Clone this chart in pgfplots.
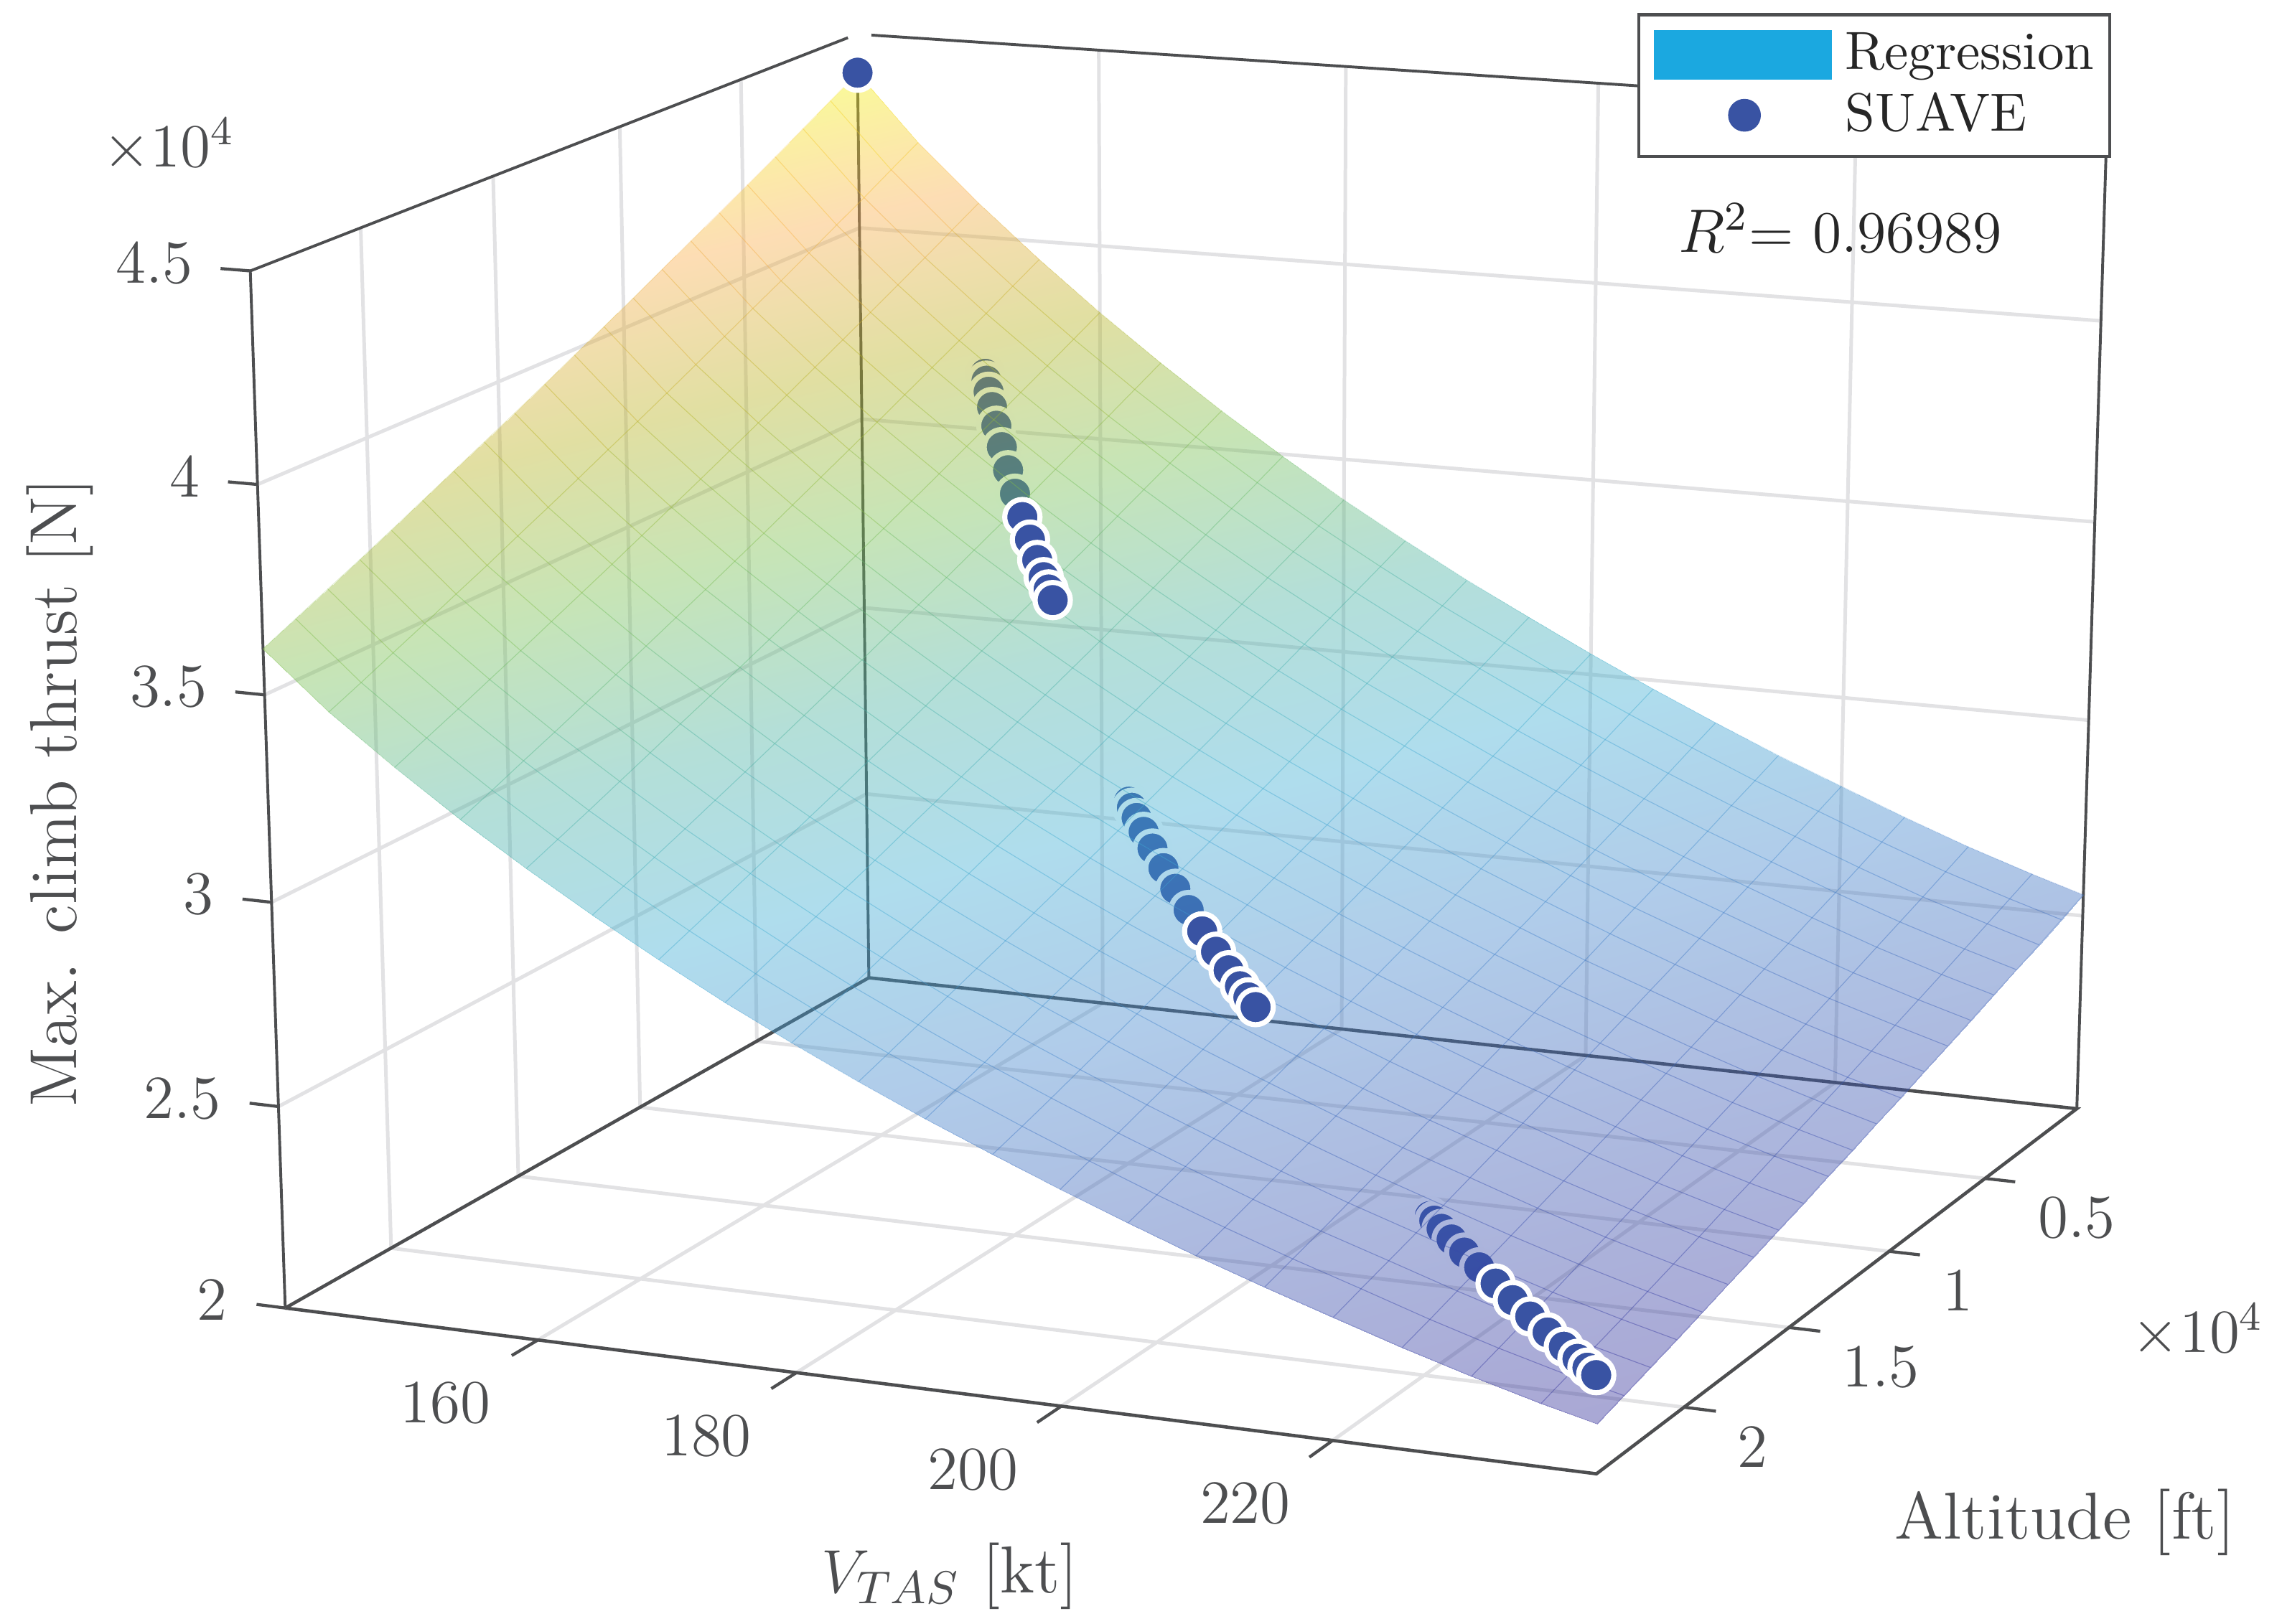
\documentclass[border=0pt]{standalone}
\usepackage{pgfplots}
\pgfplotsset{compat=1.18}
\definecolor{axcol}{RGB}{77,78,80}
\definecolor{gridcol}{RGB}{226,226,228}
\definecolor{suave}{RGB}{57,83,163}
\definecolor{regblue}{RGB}{27,168,224}
% view transform of the original figure: pgfplots only has parallel projection
\makeatletter
\def\perspq#1#2#3{%
  \pgfmathsetmacro\pu{(#1-140)/99}%
  \pgfmathsetmacro\pv{(2.4-#2)/2.4}%
  \pgfmathsetmacro\pw{(#3-2)/2.5}%
  \pgfmathsetmacro\pd{1-0.05684*\pu+0.10814*\pv-0.036*\pw}%
  \pgfmathsetmacro\px{(196+838.64*\pu+465.56*\pv-30.19*\pw)/\pd}%
  \pgfmathsetmacro\py{(899+56.42*\pu-154.33*\pv-719.5*\pw)/\pd}%
  \pgfmathsetlength\pgf@x{\px*0.28453pt}%
  \pgfmathsetlength\pgf@y{(1116-\py)*0.28453pt}%
}
\makeatother
\newcommand\tk{\fontsize{12}{14}\selectfont}
\newcommand\lb{\fontsize{13}{16}\selectfont}
% thrust surface: V [kt], altitude [1e4 ft], thrust [1e4 N]
\pgfplotstableread{
V h T
140 0 4.400
140 .12 4.357
140 .24 4.314
140 .36 4.271
140 .48 4.229
140 .6 4.188
140 .72 4.147
140 .84 4.106
140 .96 4.065
140 1.08 4.025
140 1.2 3.986
140 1.32 3.946
140 1.44 3.907
140 1.56 3.869
140 1.68 3.831
140 1.8 3.793
140 1.92 3.755
140 2.04 3.718
140 2.16 3.682
140 2.28 3.646
140 2.4 3.610
145 0 4.232
145 .12 4.191
145 .24 4.149
145 .36 4.109
145 .48 4.068
145 .6 4.028
145 .72 3.989
145 .84 3.950
145 .96 3.911
145 1.08 3.872
145 1.2 3.834
145 1.32 3.797
145 1.44 3.759
145 1.56 3.722
145 1.68 3.686
145 1.8 3.649
145 1.92 3.614
145 2.04 3.578
145 2.16 3.543
145 2.28 3.508
145 2.4 3.474
150 0 4.087
150 .12 4.047
150 .24 4.007
150 .36 3.968
150 .48 3.929
150 .6 3.891
150 .72 3.853
150 .84 3.815
150 .96 3.778
150 1.08 3.741
150 1.2 3.704
150 1.32 3.668
150 1.44 3.632
150 1.56 3.596
150 1.68 3.561
150 1.8 3.526
150 1.92 3.491
150 2.04 3.457
150 2.16 3.423
150 2.28 3.390
150 2.4 3.357
155 0 3.953
155 .12 3.915
155 .24 3.876
155 .36 3.838
155 .48 3.801
155 .6 3.764
155 .72 3.727
155 .84 3.691
155 .96 3.655
155 1.08 3.619
155 1.2 3.583
155 1.32 3.548
155 1.44 3.513
155 1.56 3.479
155 1.68 3.445
155 1.8 3.411
155 1.92 3.378
155 2.04 3.345
155 2.16 3.313
155 2.28 3.280
155 2.4 3.248
160 0 3.828
160 .12 3.791
160 .24 3.754
160 .36 3.718
160 .48 3.681
160 .6 3.646
160 .72 3.610
160 .84 3.575
160 .96 3.540
160 1.08 3.506
160 1.2 3.471
160 1.32 3.438
160 1.44 3.404
160 1.56 3.371
160 1.68 3.338
160 1.8 3.306
160 1.92 3.273
160 2.04 3.241
160 2.16 3.209
160 2.28 3.178
160 2.4 3.147
165 0 3.710
165 .12 3.674
165 .24 3.638
165 .36 3.603
165 .48 3.568
165 .6 3.533
165 .72 3.499
165 .84 3.465
165 .96 3.431
165 1.08 3.398
165 1.2 3.365
165 1.32 3.332
165 1.44 3.300
165 1.56 3.268
165 1.68 3.236
165 1.8 3.204
165 1.92 3.173
165 2.04 3.142
165 2.16 3.112
165 2.28 3.082
165 2.4 3.052
170 0 3.599
170 .12 3.564
170 .24 3.530
170 .36 3.496
170 .48 3.462
170 .6 3.428
170 .72 3.395
170 .84 3.362
170 .96 3.329
170 1.08 3.297
170 1.2 3.265
170 1.32 3.233
170 1.44 3.202
170 1.56 3.171
170 1.68 3.140
170 1.8 3.110
170 1.92 3.080
170 2.04 3.050
170 2.16 3.020
170 2.28 2.991
170 2.4 2.962
175 0 3.494
175 .12 3.460
175 .24 3.427
175 .36 3.394
175 .48 3.361
175 .6 3.328
175 .72 3.296
175 .84 3.264
175 .96 3.233
175 1.08 3.202
175 1.2 3.171
175 1.32 3.140
175 1.44 3.110
175 1.56 3.080
175 1.68 3.050
175 1.8 3.020
175 1.92 2.991
175 2.04 2.962
175 2.16 2.934
175 2.28 2.905
175 2.4 2.877
180 0 3.395
180 .12 3.362
180 .24 3.330
180 .36 3.298
180 .48 3.266
180 .6 3.235
180 .72 3.204
180 .84 3.173
180 .96 3.142
180 1.08 3.112
180 1.2 3.082
180 1.32 3.052
180 1.44 3.023
180 1.56 2.994
180 1.68 2.965
180 1.8 2.936
180 1.92 2.908
180 2.04 2.880
180 2.16 2.852
180 2.28 2.825
180 2.4 2.798
185 0 3.303
185 .12 3.271
185 .24 3.240
185 .36 3.209
185 .48 3.178
185 .6 3.147
185 .72 3.117
185 .84 3.087
185 .96 3.057
185 1.08 3.028
185 1.2 2.999
185 1.32 2.970
185 1.44 2.941
185 1.56 2.913
185 1.68 2.885
185 1.8 2.857
185 1.92 2.830
185 2.04 2.803
185 2.16 2.776
185 2.28 2.749
185 2.4 2.723
190 0 3.215
190 .12 3.184
190 .24 3.154
190 .36 3.124
190 .48 3.093
190 .6 3.064
190 .72 3.035
190 .84 3.006
190 .96 2.976
190 1.08 2.948
190 1.2 2.920
190 1.32 2.892
190 1.44 2.864
190 1.56 2.837
190 1.68 2.809
190 1.8 2.782
190 1.92 2.756
190 2.04 2.730
190 2.16 2.703
190 2.28 2.678
190 2.4 2.652
195 0 3.133
195 .12 3.103
195 .24 3.073
195 .36 3.044
195 .48 3.015
195 .6 2.986
195 .72 2.958
195 .84 2.929
195 .96 2.901
195 1.08 2.874
195 1.2 2.846
195 1.32 2.819
195 1.44 2.792
195 1.56 2.765
195 1.68 2.739
195 1.8 2.713
195 1.92 2.687
195 2.04 2.661
195 2.16 2.635
195 2.28 2.610
195 2.4 2.586
200 0 3.053
200 .12 3.024
200 .24 2.995
200 .36 2.966
200 .48 2.938
200 .6 2.910
200 .72 2.883
200 .84 2.855
200 .96 2.828
200 1.08 2.801
200 1.2 2.774
200 1.32 2.747
200 1.44 2.721
200 1.56 2.695
200 1.68 2.670
200 1.8 2.644
200 1.92 2.619
200 2.04 2.594
200 2.16 2.569
200 2.28 2.545
200 2.4 2.521
205 0 2.977
205 .12 2.949
205 .24 2.921
205 .36 2.893
205 .48 2.865
205 .6 2.838
205 .72 2.811
205 .84 2.784
205 .96 2.758
205 1.08 2.732
205 1.2 2.706
205 1.32 2.680
205 1.44 2.655
205 1.56 2.629
205 1.68 2.604
205 1.8 2.580
205 1.92 2.555
205 2.04 2.531
205 2.16 2.507
205 2.28 2.483
205 2.4 2.460
210 0 2.905
210 .12 2.878
210 .24 2.850
210 .36 2.823
210 .48 2.796
210 .6 2.770
210 .72 2.744
210 .84 2.718
210 .96 2.692
210 1.08 2.666
210 1.2 2.641
210 1.32 2.616
210 1.44 2.591
210 1.56 2.566
210 1.68 2.542
210 1.8 2.518
210 1.92 2.495
210 2.04 2.471
210 2.16 2.447
210 2.28 2.424
210 2.4 2.401
215 0 2.836
215 .12 2.809
215 .24 2.783
215 .36 2.756
215 .48 2.730
215 .6 2.704
215 .72 2.679
215 .84 2.654
215 .96 2.628
215 1.08 2.604
215 1.2 2.579
215 1.32 2.554
215 1.44 2.530
215 1.56 2.506
215 1.68 2.483
215 1.8 2.459
215 1.92 2.436
215 2.04 2.413
215 2.16 2.390
215 2.28 2.368
215 2.4 2.346
220 0 2.772
220 .12 2.746
220 .24 2.720
220 .36 2.694
220 .48 2.669
220 .6 2.644
220 .72 2.619
220 .84 2.594
220 .96 2.570
220 1.08 2.545
220 1.2 2.521
220 1.32 2.497
220 1.44 2.474
220 1.56 2.451
220 1.68 2.428
220 1.8 2.405
220 1.92 2.382
220 2.04 2.360
220 2.16 2.338
220 2.28 2.316
220 2.4 2.294
225 0 2.708
225 .12 2.683
225 .24 2.657
225 .36 2.632
225 .48 2.608
225 .6 2.583
225 .72 2.559
225 .84 2.535
225 .96 2.511
225 1.08 2.487
225 1.2 2.464
225 1.32 2.441
225 1.44 2.418
225 1.56 2.395
225 1.68 2.372
225 1.8 2.350
225 1.92 2.328
225 2.04 2.306
225 2.16 2.285
225 2.28 2.263
225 2.4 2.242
230 0 2.648
230 .12 2.623
230 .24 2.598
230 .36 2.574
230 .48 2.550
230 .6 2.526
230 .72 2.502
230 .84 2.479
230 .96 2.456
230 1.08 2.433
230 1.2 2.410
230 1.32 2.387
230 1.44 2.365
230 1.56 2.343
230 1.68 2.321
230 1.8 2.299
230 1.92 2.278
230 2.04 2.256
230 2.16 2.235
230 2.28 2.214
230 2.4 2.194
235 0 2.594
235 .12 2.570
235 .24 2.546
235 .36 2.522
235 .48 2.498
235 .6 2.475
235 .72 2.452
235 .84 2.429
235 .96 2.406
235 1.08 2.384
235 1.2 2.361
235 1.32 2.339
235 1.44 2.317
235 1.56 2.296
235 1.68 2.274
235 1.8 2.253
235 1.92 2.232
235 2.04 2.211
235 2.16 2.191
235 2.28 2.170
235 2.4 2.150
239 0 2.554
239 .12 2.530
239 .24 2.506
239 .36 2.483
239 .48 2.460
239 .6 2.437
239 .72 2.414
239 .84 2.392
239 .96 2.369
239 1.08 2.347
239 1.2 2.325
239 1.32 2.304
239 1.44 2.282
239 1.56 2.261
239 1.68 2.240
239 1.8 2.219
239 1.92 2.198
239 2.04 2.178
239 2.16 2.158
239 2.28 2.138
239 2.4 2.118
}\surfdata
\begin{document}
\begin{tikzpicture}
\path[use as bounding box] (0,0) rectangle (15.68,11.16);
\begin{axis}[
  disabledatascaling, hide axis, clip=false, clip mode=individual,
  at={(5.97cm,4.44cm)}, anchor=origin,
  x={(1cm,0cm)},y={(0cm,1cm)},z={(0cm,0.5cm)},
  xmin=140,xmax=239,ymin=0,ymax=2.4,zmin=2,zmax=4.5,
  unbounded coords=jump,
  point meta min=2.118, point meta max=4.4,
  colormap={parula}{rgb=(.2,.18,.6) rgb=(.23,.345,.7) rgb=(.26,.52,.8)
    rgb=(.25,.68,.83) rgb=(.3,.7,.63) rgb=(.47,.75,.32) rgb=(.72,.7,.13)
    rgb=(.98,.68,.3) rgb=(.95,.95,.05)},
  execute at begin axis={\global\let\pgfplotsqpointxyz\perspq},
  legend style={at={(canvas cs:x=11.25cm,y=11.07cm)},anchor=north west,
    draw=axcol,line width=.6pt,font=\fontsize{10.5}{12}\selectfont,
    text=black!85,inner xsep=3pt,inner ysep=1.5pt,row sep=-1pt},
  legend cell align=left,
]
% grid on the three walls
\addplot3[gridcol,line width=.7pt,forget plot] coordinates {
 (160,2.4,2)(160,0,2)(160,0,4.5)(nan,nan,nan)
 (180,2.4,2)(180,0,2)(180,0,4.5)(nan,nan,nan)
 (200,2.4,2)(200,0,2)(200,0,4.5)(nan,nan,nan)
 (220,2.4,2)(220,0,2)(220,0,4.5)(nan,nan,nan)
 (239,.5,2)(140,.5,2)(140,.5,4.5)(nan,nan,nan)
 (239,1,2)(140,1,2)(140,1,4.5)(nan,nan,nan)
 (239,1.5,2)(140,1.5,2)(140,1.5,4.5)(nan,nan,nan)
 (239,2,2)(140,2,2)(140,2,4.5)(nan,nan,nan)
 (140,2.4,2.5)(140,0,2.5)(239,0,2.5)(nan,nan,nan)
 (140,2.4,3)(140,0,3)(239,0,3)(nan,nan,nan)
 (140,2.4,3.5)(140,0,3.5)(239,0,3.5)(nan,nan,nan)
 (140,2.4,4)(140,0,4)(239,0,4)
};
% box
\addplot3[axcol,line width=.65pt,forget plot] coordinates {
 (140,2.4,2)(239,2.4,2)(239,0,2)(140,0,2)(140,2.4,2)};
\addplot3[axcol,line width=.55pt,forget plot] coordinates {
 (140,2.4,2)(140,2.4,4.5)(140,.04,4.5)(nan,nan,nan)
 (141.2,0,4.5)(239,0,4.5)(239,0,2)(nan,nan,nan)
 (140,0,2)(140,0,4.4)};
% ticks
\addplot3[axcol,line width=.6pt,forget plot] coordinates {
 (160,2.4,2)(160,2.5,2)(nan,nan,nan)
 (180,2.4,2)(180,2.5,2)(nan,nan,nan)
 (200,2.4,2)(200,2.5,2)(nan,nan,nan)
 (220,2.4,2)(220,2.5,2)(nan,nan,nan)
 (239,.5,2)(241.3,.5,2)(nan,nan,nan)
 (239,1,2)(241.3,1,2)(nan,nan,nan)
 (239,1.5,2)(241.3,1.5,2)(nan,nan,nan)
 (239,2,2)(241.3,2,2)(nan,nan,nan)
 (140,2.4,2)(137.7,2.4,2)(nan,nan,nan)
 (140,2.4,2.5)(137.7,2.4,2.5)(nan,nan,nan)
 (140,2.4,3)(137.7,2.4,3)(nan,nan,nan)
 (140,2.4,3.5)(137.7,2.4,3.5)(nan,nan,nan)
 (140,2.4,4)(137.7,2.4,4)(nan,nan,nan)
 (140,2.4,4.5)(137.7,2.4,4.5)
};
% SUAVE points behind the surface
\addplot3[only marks,mark=*,mark size=3.45pt,mark options={fill=suave,draw=white,line width=1pt},forget plot]
 coordinates {
 (157.6,.387,3.767)(157.97,.401,3.754)(158.54,.423,3.733)(159.35,.452,3.704)
 (160.37,.489,3.669)(161.56,.530,3.629)(162.87,.574,3.586)(164.26,.620,3.543)
 (184.1,1.222,3.008)(184.55,1.234,2.998)(185.26,1.253,2.981)(186.27,1.279,2.958)
 (187.52,1.311,2.931)(189.0,1.347,2.899)(190.61,1.386,2.866)(192.32,1.425,2.832)
 (219.8,1.968,2.373)(220.29,1.977,2.367)(221.07,1.992,2.356)(222.14,2.012,2.342)
 (223.48,2.037,2.325)(225.04,2.065,2.306)
};
% regression surface
\addplot3[surf,shader=interp,fill opacity=.42,mesh/rows=21,forget plot] table[x=V,y=h,z=T] {\surfdata};
\addplot3[mesh,line width=.15pt,opacity=.25,mesh/rows=21,forget plot] table[x=V,y=h,z=T] {\surfdata};
% SUAVE points in front of the surface
\addplot3[only marks,mark=*,mark size=3.45pt,mark options={fill=suave,draw=white,line width=1pt},forget plot]
 coordinates {
 (140,0,4.401)
 (165.65,.664,3.500)(167.04,.707,3.459)(168.31,.745,3.422)(169.40,.777,3.391)(170.21,.800,3.369)(170.9,.820,3.35)
 (194.05,1.464,2.798)(195.76,1.501,2.766)(197.32,1.535,2.737)(198.67,1.563,2.712)(199.66,1.583,2.695)(200.5,1.600,2.68)
 (226.73,2.095,2.285)(228.49,2.126,2.264)(230.25,2.156,2.243)(231.98,2.185,2.223)(233.55,2.210,2.205)(234.89,2.232,2.190)(235.87,2.248,2.179)(236.7,2.261,2.17)
};
\addlegendimage{legend image code/.code={\fill[regblue] (0cm,-0.16cm) rectangle (1.2cm,0.16cm);}}
\addlegendentry{\hspace*{.6pt}Regression\hspace*{-2pt}}
\addlegendimage{legend image code/.code={\fill[suave] (0.61cm,0cm) circle (0.102cm);}}
\addlegendentry{\hspace*{.6pt}SUAVE}
% tick labels
\foreach \v/\s in {160/-.635,180/-.62,200/-.607,220/-.6}
  {\edef\temp{\noexpand\node[text=axcol,font=\noexpand\tk,inner sep=0pt,xshift=\s cm,yshift=-.435cm] at (axis cs:\v,2.4,2) {\v};}\temp}
\foreach \h/\t in {.5/0.5,1/1,1.5/1.5,2/2}
  {\edef\temp{\noexpand\node[text=axcol,font=\noexpand\tk,inner sep=0pt,anchor=west,xshift=.36cm,yshift=-.27cm] at (axis cs:239,\h,2) {\t};}\temp}
\foreach \z/\t in {2/2,2.5/2.5,3/3,3.5/3.5,4/4,4.5/4.5}
  {\edef\temp{\noexpand\node[text=axcol,font=\noexpand\tk,inner sep=0pt,anchor=east,xshift=-.39cm,yshift=.055cm] at (axis cs:140,2.4,\z) {\t};}\temp}
\end{axis}
% axis labels and exponents, in picture coordinates
\newcommand\lab[4][]{\node[text=axcol,font=\lb,#1] at (#2*0.01,11.16-#3*0.01) {#4};}
\lab{1419.5}{1047}{Altitude [ft]}
\lab{653}{1084}{$V_{TAS}$ [kt]}
\lab[rotate=90]{41}{545}{Max. climb thrust [N]}
\lab[font=\tk]{116}{100}{$\times 10^4$}
\lab[font=\tk]{1511}{915}{$\times 10^4$}
\lab[text=black!85,font=\fontsize{11.5}{14}\selectfont]{1265}{157}{$R^2$= 0.96989}
\end{tikzpicture}
\end{document}
